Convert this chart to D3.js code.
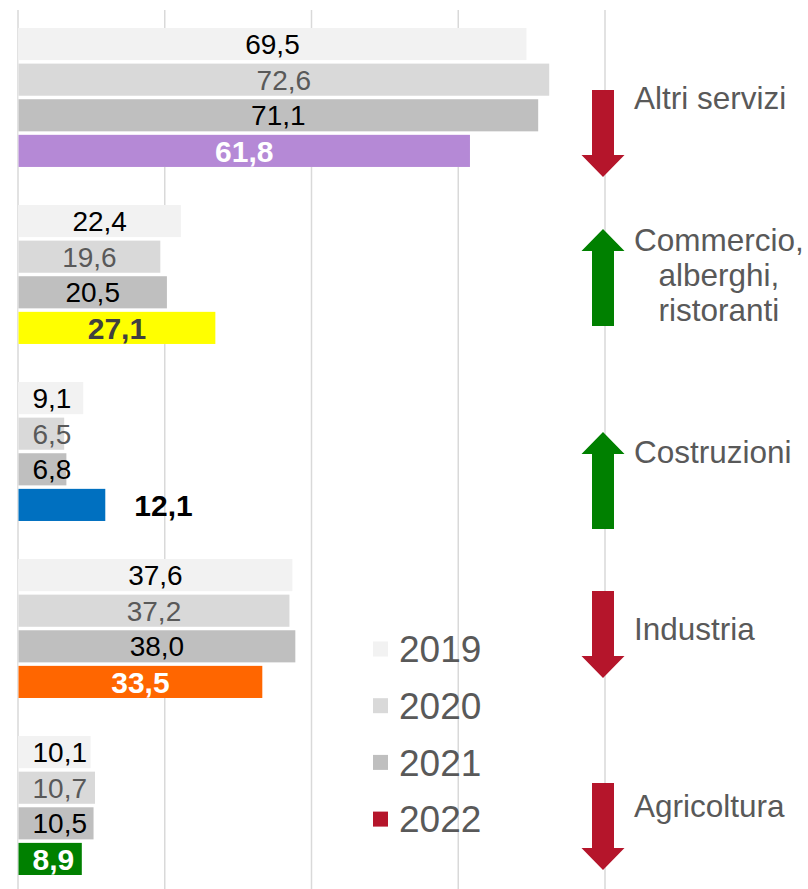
<!DOCTYPE html>
<html>
<head>
<meta charset="utf-8">
<script src="https://cdn.jsdelivr.net/npm/d3@7"></script>
<style>
  body { margin: 0; background: #fff; }
  text { font-family: "Liberation Sans", Arial, sans-serif; }
</style>
</head>
<body>
<div id="chart-area"></div>
<script>
// values per sector, 2019-2022
var sectors = ["Altri servizi", "Commercio, alberghi, ristoranti", "Costruzioni", "Industria", "Agricoltura"];
var years = ["2019", "2020", "2021", "2022"];
var v2019 = [69.5, 22.4, 9.1, 37.6, 10.1];
var v2020 = [72.6, 19.6, 6.5, 37.2, 10.7];
var v2021 = [71.1, 20.5, 6.8, 38.0, 10.5];
var v2022 = [61.8, 27.1, 12.1, 33.5, 8.9];
var xTicks = [0, 20, 40, 60, 80];

// styling
var yearColor = {"2019": "#f2f2f2", "2020": "#d9d9d9", "2021": "#bfbfbf"};
var yearLabelColor = {"2019": "#000", "2020": "#595959", "2021": "#000"};
var color2022 = ["#b589d6", "#ffff00", "#0070c0", "#ff6600", "#008000"];
var label2022Color = ["#fff", "#404040", "#000", "#fff", "#fff"];
var label2022Outside = [false, false, true, false, false];
var arrowShift = [36, 3, 29, 6, 21];
var legendColor = ["#f2f2f2", "#d9d9d9", "#bfbfbf", "#b5152b"];

var width = 808, height = 889;

var svg = d3.select("#chart-area")
	.append("svg")
	.attr("width", width)
	.attr("height", height)

var data = sectors.map(function(s, i) {
	return {sector: s, i: i, values: [v2019[i], v2020[i], v2021[i], v2022[i]]};
});

var x = d3.scaleLinear()
	.domain([0, 80])
	.range([17.5, 604.5]);

var y0 = d3.scaleBand()
	.domain(sectors)
	.range([28, 875])
	.paddingInner(0.215);

var y1 = d3.scaleBand()
	.domain(years)
	.range([0, y0.bandwidth()])
	.paddingInner(0.098);

var fmt = function(v) { return d3.format(".1f")(v).replace(".", ","); };

// gridlines
var grid = svg.append("g")
	.attr("class", "grid")
	.attr("transform", "translate(0,10)")
	.call(d3.axisTop(x).tickValues(xTicks).tickSize(-(height - 10)).tickFormat(""));
grid.select(".domain").remove();
grid.selectAll("line").attr("stroke", "#d9d9d9").attr("stroke-width", 1.5);

var groups = svg.append("g")
	.selectAll("g")
	.data(data)
	.enter()
	.append("g")
	.attr("transform", function(d) { return "translate(0," + y0(d.sector) + ")"; });

// white backing behind each group hides the gridlines there
groups.append("rect")
	.attr("x", x(0) + 1)
	.attr("y", 0)
	.attr("width", function(d) { return x(d3.max(d.values)) - x(0) + 1; })
	.attr("height", y0.bandwidth())
	.attr("fill", "#fff");

groups.selectAll("rect.bar")
	.data(function(d) {
		return d.values.map(function(v, j) { return {year: years[j], value: v, i: d.i}; });
	})
	.enter()
	.append("rect")
	.attr("class", "bar")
	.attr("x", x(0) + 1)
	.attr("y", function(d) { return y1(d.year); })
	.attr("width", function(d) { return x(d.value) - x(0) - 2; })
	.attr("height", y1.bandwidth())
	.attr("fill", function(d) { return d.year == "2022" ? color2022[d.i] : yearColor[d.year]; });

groups.selectAll("text.val")
	.data(function(d) {
		return d.values.map(function(v, j) { return {year: years[j], value: v, i: d.i}; });
	})
	.enter()
	.append("text")
	.attr("class", "val")
	.attr("y", function(d) { return y1(d.year) + y1.bandwidth() / 2; })
	.attr("dy", "0.36em")
	.attr("font-size", function(d) { return d.year == "2022" ? "30px" : "28px"; })
	.attr("font-weight", function(d) { return d.year == "2022" ? "bold" : "normal"; })
	.attr("fill", function(d) { return d.year == "2022" ? label2022Color[d.i] : yearLabelColor[d.year]; })
	.attr("text-anchor", "start")
	.text(function(d) { return fmt(d.value); })
	.attr("x", function(d) {
		var w = this.getComputedTextLength();
		if (d.year == "2022" && label2022Outside[d.i]) return x(d.value) + 28;
		var cx = (x(0) + x(d.value)) / 2;
		return Math.max(cx - w / 2, x(0) + 15);
	});

// sector labels
groups.each(function(d) {
	var lines = d.sector.split(/(?<=,)\s/);
	var t = d3.select(this).append("text")
		.attr("font-size", "31.5px")
		.attr("fill", "#595959");
	var lh = 35;
	lines.forEach(function(l, k) {
		t.append("tspan")
			.attr("x", 634)
			.attr("y", y0.bandwidth() / 2 + (k - (lines.length - 1) / 2) * lh)
			.attr("dy", "0.36em")
			.text(l);
	});
	if (lines.length > 1) {
		var maxW = d3.max(t.selectAll("tspan").nodes(), function(n) { return n.getComputedTextLength(); });
		t.attr("text-anchor", "middle");
		t.selectAll("tspan").attr("x", 634 + maxW / 2);
	}
});

// change arrows (2022 vs 2021)
groups.append("path")
	.attr("d", function(d) {
		var up = d.values[3] > d.values[2];
		var len = up ? 97 : 87;
		var cx = x(80) - 1.5, cy = y0.bandwidth() / 2 + arrowShift[d.i];
		var hw = 21.5, sw = 11, hl = 22;
		var a = cy - len / 2, b = cy + len / 2;
		if (up) {
			return "M" + cx + "," + a + "L" + (cx + hw) + "," + (a + hl) + "L" + (cx + sw) + "," + (a + hl) +
				"L" + (cx + sw) + "," + b + "L" + (cx - sw) + "," + b + "L" + (cx - sw) + "," + (a + hl) +
				"L" + (cx - hw) + "," + (a + hl) + "Z";
		}
		return "M" + cx + "," + b + "L" + (cx + hw) + "," + (b - hl) + "L" + (cx + sw) + "," + (b - hl) +
			"L" + (cx + sw) + "," + a + "L" + (cx - sw) + "," + a + "L" + (cx - sw) + "," + (b - hl) +
			"L" + (cx - hw) + "," + (b - hl) + "Z";
	})
	.attr("fill", function(d) { return d.values[3] > d.values[2] ? "#008000" : "#b5152b"; });

// legend
var legend = svg.append("g")
	.attr("class", "legend")
	.attr("transform", "translate(373,649)");

var items = legend.selectAll("g")
	.data(years)
	.enter()
	.append("g")
	.attr("transform", function(d, i) { return "translate(0," + (i * 56.7) + ")"; });

items.append("rect")
	.attr("x", 0)
	.attr("y", -7.5)
	.attr("width", 15)
	.attr("height", 15)
	.attr("fill", function(d, i) { return legendColor[i]; });

items.append("text")
	.attr("x", 26)
	.attr("y", 0)
	.attr("dy", "0.36em")
	.attr("font-size", "37px")
	.attr("fill", "#595959")
	.text(function(d) { return d; });
</script>
</body>
</html>
